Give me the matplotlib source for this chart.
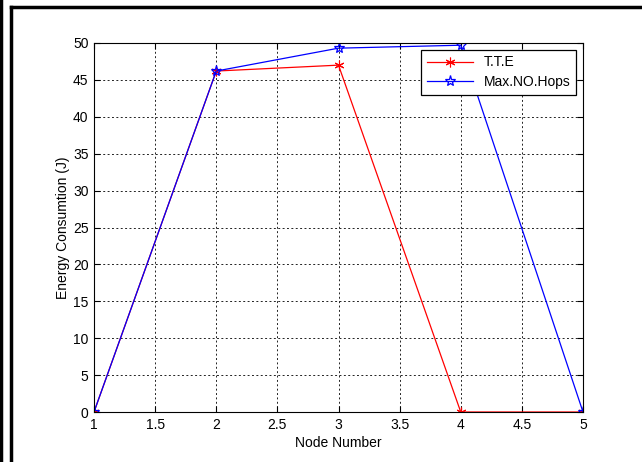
import matplotlib.pyplot as plt
from matplotlib.lines import Line2D

# Data
nodes = [1, 2, 3, 4, 5]
tte = [0, 46.2, 47.0, 0, 0]
max_hops = [0, 46.2, 49.3, 49.7, 0]

plt.rcParams['font.family'] = ['Liberation Sans', 'DejaVu Sans']

fig = plt.figure(figsize=(6.42, 4.62), dpi=100)
ax = fig.add_axes([94 / 642, 1 - 412 / 462, (583 - 94) / 642, (412 - 43) / 462])

ax.plot(nodes, tte, color='red', lw=0.9, marker=(6, 2, 0), ms=7, mew=0.8, label='T.T.E')
ax.plot(nodes, max_hops, color='blue', lw=0.9, marker='*', ms=8, mfc='none', mew=0.9,
        label='Max.NO.Hops')

ax.set_xlim(1, 5)
ax.set_ylim(0, 50)
ax.set_xticks([1, 1.5, 2, 2.5, 3, 3.5, 4, 4.5, 5])
ax.set_xticklabels(['1', '1.5', '2', '2.5', '3', '3.5', '4', '4.5', '5'])
ax.set_yticks(range(0, 51, 5))
ax.grid(True, color='#222222', linestyle=(0, (2, 2.5)), linewidth=0.7)
ax.tick_params(direction='in', labelsize=10, length=4, top=True, right=True, pad=4)
for s in ax.spines.values():
    s.set_linewidth(0.8)

ax.set_xlabel('Node Number', fontsize=10, labelpad=3)
ax.set_ylabel('Energy Consumtion (J)', fontsize=10, labelpad=2)

leg = ax.legend(loc='upper right', fontsize=10, fancybox=False, framealpha=1,
                edgecolor='black', borderaxespad=0.5, handlelength=3.3,
                borderpad=0.4, labelspacing=0.4)
leg.get_frame().set_linewidth(0.9)

# Outer frame lines
fig.add_artist(Line2D([1 / 642, 1 / 642], [0, 1], color='black', lw=2.5, transform=fig.transFigure))
fig.add_artist(Line2D([11 / 642, 11 / 642], [0, 1 - 7 / 462], color='black', lw=2.5, transform=fig.transFigure))
fig.add_artist(Line2D([11 / 642, 1], [1 - 7 / 462, 1 - 7 / 462], color='black', lw=2.5, transform=fig.transFigure))

fig.savefig('out.png', dpi=100)
